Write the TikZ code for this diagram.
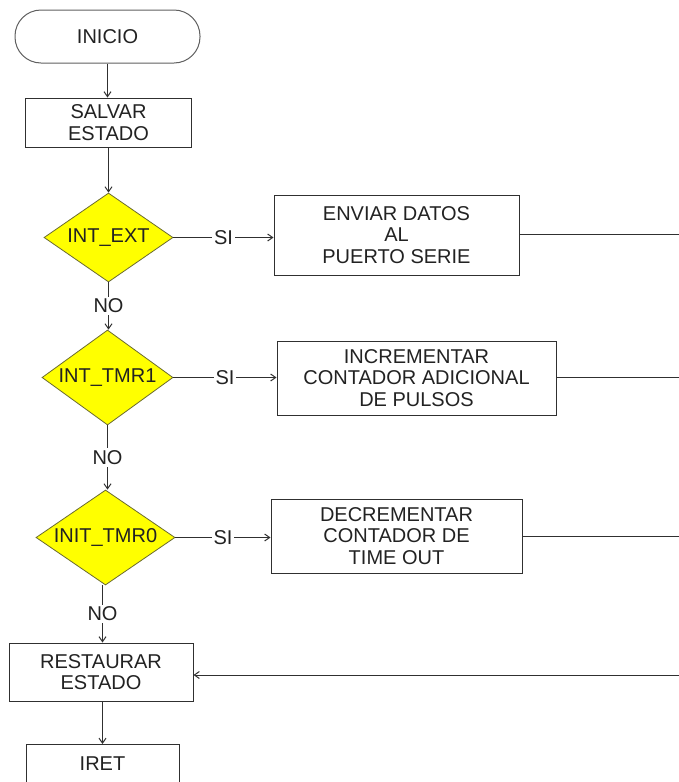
\documentclass[tikz,border=0pt]{standalone}
\usepackage{fontspec}
\setmainfont{Liberation Sans}
\usetikzlibrary{shapes.geometric,arrows.meta}

\definecolor{ink}{HTML}{222222}
\definecolor{edge}{HTML}{303030}
\definecolor{decfill}{HTML}{FFFF00}
\definecolor{decline}{HTML}{6A6A30}

\tikzset{
  base/.style={font=\fontsize{20}{21.5}\selectfont, text=ink, align=center},
  terminal/.style={base, draw=gray!75!black, line width=1pt, rounded corners=26pt,
    minimum width=185pt, minimum height=53pt, inner sep=0pt},
  procbox/.style={base, draw=edge, line width=1pt, rectangle, inner sep=0pt},
  decision/.style={base, diamond, draw=decline, fill=decfill, line width=0.8pt,
    aspect=1.46, inner sep=0pt},
  flow/.style={draw=edge, line width=1pt},
  arrow/.style={flow, -{Straight Barb[length=5pt,width=7pt]}},
  tag/.style={base, fill=white, inner sep=2pt}
}

\begin{document}
\begin{tikzpicture}[x=1pt,y=-1pt]
  \useasboundingbox (0,0) rectangle (679,782);
  \clip (0,0) rectangle (679,782);

  % start / save context
  \node[terminal] (inicio) at (107.5,36.5) {INICIO};
  \node[procbox, minimum width=166pt, minimum height=49pt] (salvar) at (108.5,122.5) {SALVAR\\ESTADO};

  % interrupt source checks
  \node[decision, minimum width=129pt, minimum height=89pt] (dext) at (108.5,237.5) {INT\_EXT};
  \node[decision, minimum width=131pt, minimum height=95pt] (dtmr1) at (107.5,377.5) {INT\_TMR1};
  \node[decision, minimum width=139pt, minimum height=95pt] (dtmr0) at (105.5,537.5) {INIT\_TMR0};

  % service routines
  \node[procbox, minimum width=245pt, minimum height=80pt] (envia) at (396.5,235) {ENVIAR DATOS\\AL\\PUERTO SERIE};
  \node[procbox, minimum width=279pt, minimum height=74pt] (incre) at (416.5,378) {INCREMENTAR\\CONTADOR ADICIONAL\\DE PULSOS};
  \node[procbox, minimum width=251pt, minimum height=74pt] (decre) at (396.5,536) {DECREMENTAR\\CONTADOR DE\\TIME OUT};

  % restore context / return
  \node[procbox, minimum width=184pt, minimum height=58pt] (rest) at (101,672) {RESTAURAR\\ESTADO};
  \node[procbox, anchor=north, minimum width=153pt, text height=14pt, text depth=30pt,
        inner ysep=11.5pt] (iret) at (102.5,744) {IRET};

  % off-page joins on the right
  \coordinate (o1) at (690,234.5);
  \coordinate (o2) at (690,377.5);
  \coordinate (o3) at (690,536);
  \coordinate (o4) at (690,675);

  % main flow
  \draw[arrow] (inicio.south) -- (salvar.north -| inicio.south);
  \draw[arrow] (salvar.south -| dext.north) -- (dext.north);
  \draw[arrow] (dext.south) -- node[tag] {NO} (dext.south |- dtmr1.north);
  \draw[arrow] (dtmr1.south) -- node[tag] {NO} (dtmr1.south |- dtmr0.north);
  \draw[arrow] (dtmr0.south -| 102.5,0) -- node[tag] {NO} (rest.north -| 102.5,0);
  \draw[arrow] (rest.south -| iret.north) -- (iret.north);

  % yes branches
  \draw[arrow] (dext.east) -- node[tag] {SI} (envia.west |- dext.east);
  \draw[arrow] (dtmr1.east) -- node[tag] {SI} (incre.west |- dtmr1.east);
  \draw[arrow] (dtmr0.east) -- node[tag] {SI} (decre.west |- dtmr0.east);

  % returns from the routines
  \draw[flow] (envia.east |- o1) -- (o1);
  \draw[flow] (incre.east |- o2) -- (o2);
  \draw[flow] (decre.east |- o3) -- (o3);
  \draw[arrow] (o4) -- (rest.east |- o4);
\end{tikzpicture}
\end{document}
